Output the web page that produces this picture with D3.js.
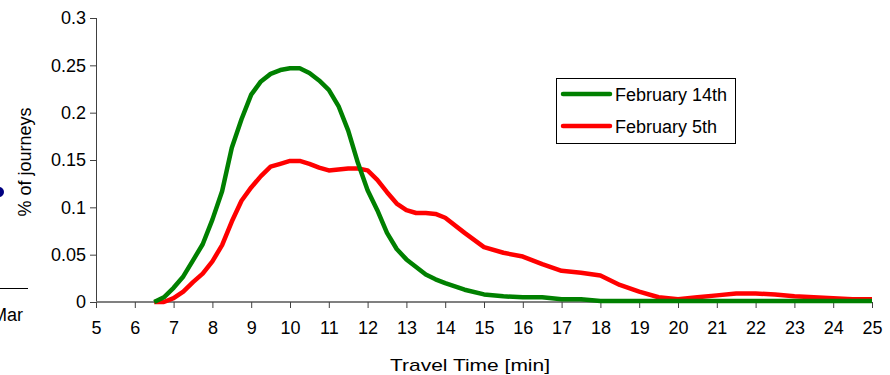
<!DOCTYPE html>
<html>
<head>
<meta charset="utf-8">
<script src="https://cdn.jsdelivr.net/npm/d3@7"></script>
<style>
  body { margin: 0; background: #fff; }
  svg { display: block; font-family: "Liberation Sans", Arial, sans-serif; }
</style>
</head>
<body>
<div id="chart"></div>
<script>
// travel time (min) samples
var times = [6.5, 6.75, 7, 7.25, 7.5, 7.75, 8, 8.25, 8.5, 8.75, 9, 9.25, 9.5, 9.75,
  10, 10.25, 10.5, 10.75, 11, 11.25, 11.5, 11.75, 12, 12.25, 12.5, 12.75,
  13, 13.25, 13.5, 13.75, 14, 14.5, 15, 15.5, 16, 16.5, 17, 17.5, 18, 18.5,
  19, 19.5, 20, 20.5, 21, 21.5, 22, 22.5, 23, 23.5, 24, 24.5, 25];

// February 14th
var feb14 = [0, 0.005, 0.015, 0.027, 0.044, 0.061, 0.087, 0.117, 0.163, 0.193, 0.219, 0.233, 0.241, 0.245,
  0.247, 0.247, 0.242, 0.234, 0.224, 0.207, 0.181, 0.147, 0.118, 0.097, 0.073, 0.056,
  0.045, 0.037, 0.029, 0.024, 0.020, 0.013, 0.008, 0.006, 0.005, 0.005, 0.003, 0.003, 0.001, 0.001,
  0.001, 0.001, 0.001, 0.001, 0.001, 0.001, 0.001, 0.001, 0.001, 0.001, 0.001, 0.001, 0.001];

// February 5th
var feb5 = [0, 0, 0.004, 0.011, 0.021, 0.030, 0.043, 0.060, 0.085, 0.107, 0.121, 0.133, 0.143, 0.146,
  0.149, 0.149, 0.146, 0.142, 0.139, 0.140, 0.141, 0.141, 0.139, 0.129, 0.116, 0.104,
  0.097, 0.094, 0.094, 0.093, 0.089, 0.073, 0.058, 0.052, 0.048, 0.040, 0.033, 0.031, 0.028, 0.018,
  0.011, 0.005, 0.003, 0.005, 0.007, 0.009, 0.009, 0.008, 0.006, 0.005, 0.004, 0.003, 0.003];

var seriesNames = ["February 14th", "February 5th"];
var seriesColors = ["#008000", "#ff0000"];

var xTicks = d3.range(5, 26);
var yTicks = [0, 0.05, 0.1, 0.15, 0.2, 0.25, 0.3];
var yTickLabels = ["0", "0.05", "0.1", "0.15", "0.2", "0.25", "0.3"];

var width = 890, height = 375;
var plotL = 96, plotR = 872, plotT = 18, plotB = 302;

var svg = d3.select("#chart").append("svg")
    .attr("width", width)
    .attr("height", height);

var x = d3.scaleLinear().domain([5, 25]).range([plotL, plotR]);
var y = d3.scaleLinear().domain([0, 0.3]).range([plotB, plotT]);

// bits of the neighbouring chart cut off on the left
svg.append("circle").attr("cx", -1).attr("cy", 192).attr("r", 5).attr("fill", "#000080");
svg.append("line").attr("x1", 0).attr("x2", 28).attr("y1", 288.5).attr("y2", 288.5)
    .attr("stroke", "#000").attr("stroke-width", 1);
svg.append("text").attr("x", 23).attr("y", 321).attr("text-anchor", "end")
    .style("font-size", "18px").attr("fill", "#000").text("Mar");

// y axis
var yAxis = svg.append("g")
    .attr("transform", "translate(" + plotL + ",0)")
    .call(d3.axisLeft(y).tickValues(yTicks).tickSize(6).tickPadding(4)
        .tickFormat(function (d, i) { return yTickLabels[i]; }));
yAxis.select(".domain").attr("stroke", "#404040").attr("d", "M0.5," + plotT + "V" + plotB);
yAxis.selectAll(".tick line").attr("stroke", "#404040");
yAxis.selectAll("text").style("font-size", "18px").attr("fill", "#000");

// x axis
var xAxis = svg.append("g")
    .attr("transform", "translate(0," + plotB + ")")
    .call(d3.axisBottom(x).tickValues(xTicks).tickSize(6).tickPadding(13)
        .tickFormat(d3.format("d")));
xAxis.select(".domain").attr("stroke", "#808080").attr("stroke-width", 2)
    .attr("d", "M" + plotL + ",0H" + plotR);
xAxis.selectAll(".tick line").attr("stroke", "#404040");
xAxis.selectAll("text").style("font-size", "18px").attr("fill", "#000");

// lines
var line = d3.line()
    .x(function (d) { return x(d[0]); })
    .y(function (d) { return y(d[1]); });

[[feb5, 1], [feb14, 0]].forEach(function (s) {
    svg.append("path")
        .datum(times.map(function (t, i) { return [t, s[0][i]]; }))
        .attr("fill", "none")
        .attr("stroke", seriesColors[s[1]])
        .attr("stroke-width", 4.5)
        .attr("stroke-linejoin", "round")
        .attr("d", line);
});

// axis titles
svg.append("text")
    .attr("transform", "translate(31,162) rotate(-90)")
    .attr("text-anchor", "middle")
    .style("font-size", "18px")
    .text("% of journeys");

svg.append("text")
    .attr("x", 470)
    .attr("y", 371)
    .attr("text-anchor", "middle")
    .attr("textLength", 160)
    .attr("lengthAdjust", "spacingAndGlyphs")
    .style("font-size", "17px")
    .text("Travel Time [min]");

// legend
var legend = svg.append("g").attr("transform", "translate(556,78)");
legend.append("rect")
    .attr("x", 0.5).attr("y", 0.5)
    .attr("width", 179).attr("height", 65)
    .attr("fill", "#fff").attr("stroke", "#000");
seriesNames.forEach(function (name, i) {
    var ly = 16 + i * 32;
    legend.append("line")
        .attr("x1", 7).attr("x2", 54).attr("y1", ly).attr("y2", ly)
        .attr("stroke", seriesColors[i]).attr("stroke-width", 4.5)
        .attr("stroke-linecap", "round");
    legend.append("text")
        .attr("x", 59).attr("y", ly + 7)
        .style("font-size", "18px")
        .text(name.replace(" ", "\u00a0"));
});
</script>
</body>
</html>
